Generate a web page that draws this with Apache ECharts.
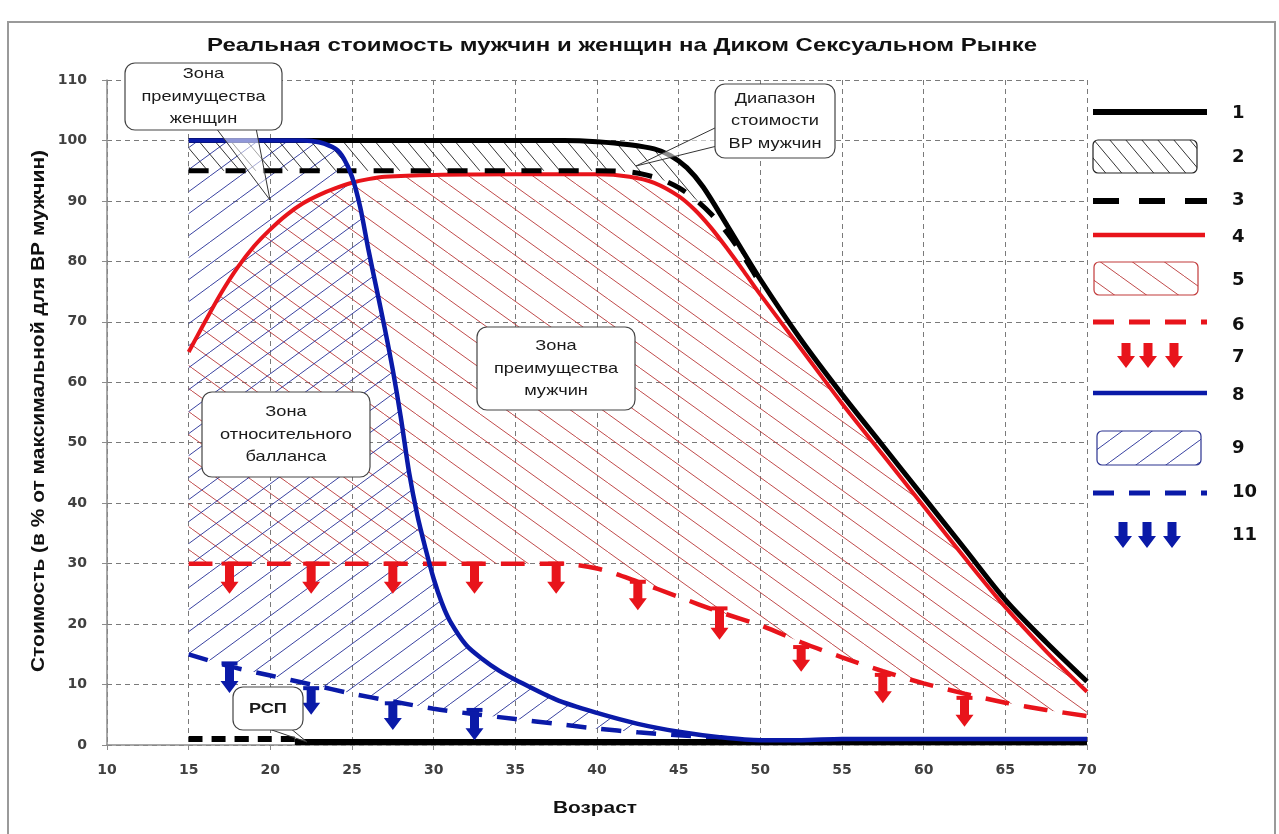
<!DOCTYPE html>
<html>
<head>
<meta charset="utf-8">
<title>Реальная стоимость мужчин и женщин</title>
<script src="https://cdn.jsdelivr.net/npm/echarts@6/dist/echarts.min.js"></script>
<style>
  html, body { margin: 0; padding: 0; background: #fff; }
  #chart { width: 1279px; height: 834px; }
</style>
</head>
<body>
<div id="chart"></div>
<script>
// --- values (age -> % of max value) ---
const ageMax = [15, 20, 25, 30, 35, 38, 40, 42, 43.5, 44.5, 45.5, 46.5, 48, 50, 52.5, 55, 57.5, 60, 62.5, 65, 67.5, 70];
const maxMen = [100, 100, 100, 100, 100, 100, 99.8, 99.3, 98.6, 97.5, 95.5, 92.3, 85.8, 77, 67, 58, 49.5, 41, 32.5, 24, 17, 10.5];

const ageRangeLow = [15, 20, 25, 30, 35, 40, 42, 43, 44, 45, 46, 47, 48, 49, 50];
const rangeLow = [95, 95, 95, 95, 95, 95, 94.8, 94.3, 93.5, 92.2, 90.3, 87.8, 84.6, 80.7, 76.3];

const ageMen = [15, 16, 17, 18, 19, 20, 21, 22, 23, 24, 25, 26, 27, 30, 35, 40, 42, 43.5, 45, 46, 47, 48, 49, 50, 52.5, 55, 57.5, 60, 62.5, 65, 67.5, 70];
const valMen = [65, 70, 74.8, 79, 82.5, 85.3, 87.7, 89.6, 91, 92.1, 93, 93.6, 94, 94.3, 94.4, 94.4, 94, 93, 90.8, 88.5, 85.5, 82, 78.3, 74.5, 65.5, 56.5, 48, 39.5, 31, 22.8, 15.5, 8.8];

const ageMenLow = [15, 20, 25, 30, 35, 37.5, 40, 42.5, 45, 47.5, 50, 52.5, 55, 57.5, 60, 62.5, 65, 67.5, 70];
const menLow = [30, 30, 30, 30, 30, 30, 29.2, 27, 24.5, 22, 19.8, 17, 14.5, 12.2, 10.2, 8.5, 7, 5.8, 4.8];

const ageWomen = [15, 20, 22, 23, 24, 24.5, 25, 25.5, 26, 26.5, 27, 27.5, 28, 28.5, 29, 29.5, 30, 30.5, 31, 32, 33, 34, 35, 37.5, 40, 42.5, 45, 47.5, 50, 52.5, 55, 60, 65, 70];
const valWomen = [100, 100, 100, 99.7, 98.6, 97, 94, 89, 82, 75.5, 69, 62, 54, 45, 38, 32.5, 27.5, 23.5, 20.5, 16.5, 14.2, 12.3, 10.8, 7.5, 5.3, 3.5, 2.2, 1.3, 0.8, 0.8, 1, 1, 1, 1];

const ageWomenLow = [15, 17.5, 20, 22.5, 25, 27.5, 30, 32.5, 35, 37.5, 40, 42.5, 45, 47.5];
const womenLow = [15, 13, 11.5, 10, 8.5, 7.2, 6, 5.1, 4.3, 3.5, 2.7, 2.1, 1.6, 1.2];

const ageRspDash = [15, 21.5];
const rspDash = [1, 1];
const ageRsp = [21.5, 70];
const rsp = [0.5, 0.5];

const redArrowAge = [17.5, 22.5, 27.5, 32.5, 37.5, 42.5, 47.5, 52.5, 57.5, 62.5];
const redArrowTop = [30, 30, 30, 30, 30, 27, 22.6, 16.2, 11.6, 7.8];
const redArrowEnd = [25, 25, 25, 25, 25, 22.3, 17.4, 12.1, 6.9, 3];

const blueArrowAge = [17.5, 22.5, 27.5, 32.5];
const blueArrowTop = [13.5, 9.4, 6.9, 5.8];
const blueArrowEnd = [8.6, 5, 2.5, 0.8];

const legendNums = ['1', '2', '3', '4', '5', '6', '7', '8', '9', '10', '11'];

const titleText = 'Реальная стоимость мужчин и женщин на Диком Сексуальном Рынке';
const yName = 'Стоимость (в % от максимальной для ВР мужчин)';
const xName = 'Возраст';

const RED = '#e8141b';
const BLUE = '#0a1aa8';
const SANS = '"Liberation Sans", Arial, sans-serif';
const DEJAVU = '"DejaVu Sans", sans-serif';

const pairs = (xs, ys) => xs.map((x, i) => [x, ys[i]]);

// hatch tiles
function hatch(color, w, h, up) {
  const c = document.createElement('canvas');
  c.width = w; c.height = h;
  const g = c.getContext('2d');
  g.strokeStyle = color;
  g.lineWidth = 1;
  g.beginPath();
  for (let k = -1; k <= 1; k++) {
    if (up) { g.moveTo(k * w, h); g.lineTo(k * w + w, 0); }
    else { g.moveTo(k * w, 0); g.lineTo(k * w + w, h); }
  }
  g.stroke();
  return { image: c, repeat: 'repeat' };
}
const hatchBlack = hatch('rgba(30,30,30,0.9)', 16, 19, false);
const hatchRed = hatch('rgba(185,55,55,0.9)', 32, 23, false);
const hatchBlue = hatch('rgba(35,45,150,0.9)', 30, 22, true);

const measure = document.createElement('canvas').getContext('2d');
function fitScale(str, font, target) {
  measure.font = font;
  return target / measure.measureText(str).width;
}

function lineSeries(name, xs, ys, color, width, dash, z) {
  return {
    name: name, type: 'line', data: pairs(xs, ys), z: z,
    showSymbol: false, silent: true,
    smooth: 0.3,
    lineStyle: { color: color, width: width, type: dash || 'solid' }
  };
}

function bandSeries(upX, upY, lowX, lowY, fill) {
  const upper = pairs(upX, upY);
  const lower = pairs(lowX, lowY).reverse();
  return {
    type: 'custom', z: 1, silent: true,
    data: [upper[0]],
    renderItem: function (params, api) {
      const pts = upper.concat(lower).map(p => api.coord(p));
      return { type: 'polygon', shape: { points: pts }, style: { fill: fill, stroke: null } };
    }
  };
}

function arrowShape(cx, y0, y1, color, cap) {
  const sw = 4.5, hw = 9, hl = 12;
  const kids = [{
    type: 'polygon',
    shape: { points: [[cx - sw, y0], [cx + sw, y0], [cx + sw, y1 - hl], [cx + hw, y1 - hl], [cx, y1], [cx - hw, y1 - hl], [cx - sw, y1 - hl]] },
    style: { fill: color }
  }];
  if (cap) kids.push({ type: 'rect', shape: { x: cx - 8, y: y0 - 2, width: 16, height: 4 }, style: { fill: color } });
  return kids;
}

function arrowSeries(xs, tops, ends, color) {
  return {
    type: 'custom', z: 8, silent: true,
    data: xs.map((x, i) => [x, tops[i], ends[i]]),
    renderItem: function (params, api) {
      const p0 = api.coord([api.value(0), api.value(1)]);
      const p1 = api.coord([api.value(0), api.value(2)]);
      return { type: 'group', children: arrowShape(p0[0], p0[1], p1[1], color, true) };
    }
  };
}

// callouts (pixel layout)
const callouts = [
  { text: 'Зона\nпреимущества\nженщин', box: [125, 63, 157, 67], wedge: [[216, 128], [256, 128], [270, 200]] },
  { text: 'Диапазон\nстоимости\nВР мужчин', box: [715, 84, 120, 74], wedge: [[717, 127], [717, 146], [636, 166]] },
  { text: 'Зона\nпреимущества\nмужчин', box: [477, 327, 158, 83] },
  { text: 'Зона\nотносительного\nбалланса', box: [202, 392, 168, 85] },
  { text: 'РСП', box: [233, 687, 70, 43], wedge: [[266, 728], [290, 728], [307, 742]], bold: true }
];

function buildGraphics() {
  const graphics = [];
  graphics.push({ type: 'rect', z: 0, shape: { x: 8, y: 22, width: 1267, height: 830 }, style: { fill: null, stroke: '#9a9a9a', lineWidth: 2 } });

  function label(str, x, y, size, target, rot) {
    const font = 'bold ' + size + 'px ' + SANS;
    return {
      type: 'text', x: x, y: y, rotation: rot || 0, scaleX: fitScale(str, font, target), z: 50,
      style: { text: str, fontFamily: SANS, fontWeight: 'bold', fontSize: size, fill: '#111', align: 'center', verticalAlign: 'middle' }
    };
  }
  graphics.push(label(titleText, 622, 46, 19, 830));
  graphics.push(label(yName, 39, 411, 18, 522, Math.PI / 2));
  graphics.push(label(xName, 595, 808, 17, 84));

  const calloutScale = fitScale('преимущества', 'normal 15px ' + SANS, 124);
  callouts.forEach(c => {
    const [bx, by, bw, bh] = c.box;
    if (c.wedge) {
      graphics.push({ type: 'polygon', z: 90, shape: { points: c.wedge }, style: { fill: 'rgba(255,255,255,0.55)', stroke: '#333', lineWidth: 1 } });
    }
    graphics.push({ type: 'rect', z: 91, shape: { x: bx, y: by, width: bw, height: bh, r: 10 }, style: { fill: '#fff', stroke: '#444', lineWidth: 1.2 } });
    graphics.push({
      type: 'text', z: 92, x: bx + bw / 2, y: by + bh / 2, scaleX: calloutScale,
      style: {
        text: c.text, fontFamily: SANS, fontSize: 15, fontWeight: c.bold ? 'bold' : 'normal',
        lineHeight: 22.5, fill: '#1a1a1a', align: 'center', verticalAlign: 'middle'
      }
    });
  });

  // legend (drawn by hand: hatch boxes and arrows)
  const LX0 = 1093, LX1 = 1207;
  graphics.push({ type: 'line', shape: { x1: LX0, y1: 112, x2: LX1, y2: 112 }, style: { stroke: '#000', lineWidth: 6 } });
  graphics.push({ type: 'rect', shape: { x: LX0, y: 140, width: 104, height: 33, r: 5 }, style: { fill: hatchBlack, stroke: '#222', lineWidth: 1.2 } });
  graphics.push({ type: 'line', shape: { x1: LX0, y1: 201, x2: LX1, y2: 201 }, style: { stroke: '#000', lineWidth: 6, lineDash: [26, 20] } });
  graphics.push({ type: 'line', shape: { x1: LX0, y1: 235, x2: LX1 - 2, y2: 235 }, style: { stroke: RED, lineWidth: 4.5 } });
  graphics.push({ type: 'rect', shape: { x: LX0 + 1, y: 262, width: 104, height: 33, r: 5 }, style: { fill: hatchRed, stroke: '#c23a3a', lineWidth: 1.2 } });
  graphics.push({ type: 'line', shape: { x1: LX0, y1: 322, x2: LX1, y2: 322 }, style: { stroke: RED, lineWidth: 5, lineDash: [21, 15] } });
  [1126, 1148, 1174].forEach(cx => graphics.push({ type: 'group', children: arrowShape(cx, 343, 368, RED, false) }));
  graphics.push({ type: 'line', shape: { x1: LX0, y1: 393, x2: LX1, y2: 393 }, style: { stroke: BLUE, lineWidth: 4.5 } });
  graphics.push({ type: 'rect', shape: { x: LX0 + 4, y: 431, width: 104, height: 34, r: 5 }, style: { fill: hatchBlue, stroke: '#2a3290', lineWidth: 1.2 } });
  graphics.push({ type: 'line', shape: { x1: LX0, y1: 493, x2: LX1, y2: 493 }, style: { stroke: BLUE, lineWidth: 5, lineDash: [21, 15] } });
  [1123, 1147, 1172].forEach(cx => graphics.push({ type: 'group', children: arrowShape(cx, 522, 548, BLUE, false) }));

  const legendY = [113, 157, 200, 237, 280, 325, 357, 395, 448, 492, 535];
  legendNums.forEach((n, i) => graphics.push({
    type: 'text', x: 1232, y: legendY[i],
    style: { text: n, fontFamily: DEJAVU, fontWeight: 'bold', fontSize: 18, fill: '#111', align: 'left', verticalAlign: 'middle' }
  }));
  return graphics;
}

const chart = echarts.init(document.getElementById('chart'));
const axisLabel = { color: '#404040', fontWeight: 'bold', fontSize: 14, fontFamily: DEJAVU };
const gridLine = { type: [5, 4], color: '#7a7a7a', width: 1 };

function render() {
  chart.setOption({
    animation: false,
    backgroundColor: '#fff',
    grid: { left: 107, top: 80, width: 980, height: 665 },
    xAxis: {
      type: 'value', min: 10, max: 70, interval: 5,
      axisLine: { lineStyle: { color: '#8c8c8c', width: 1.5 } },
      axisTick: { show: true, length: 5, lineStyle: { color: '#8c8c8c' } },
      axisLabel: Object.assign({ margin: 18 }, axisLabel),
      splitLine: { show: true, lineStyle: gridLine }
    },
    yAxis: {
      type: 'value', min: 0, max: 110, interval: 10,
      axisLine: { show: true, lineStyle: { color: '#8c8c8c', width: 1.5 } },
      axisTick: { show: true, length: 5, lineStyle: { color: '#8c8c8c' } },
      axisLabel: Object.assign({ margin: 20 }, axisLabel),
      splitLine: { show: true, lineStyle: gridLine }
    },
    series: [
      bandSeries(ageMen, valMen, ageMenLow, menLow, hatchRed),
      bandSeries(ageWomen.filter(a => a <= 47.5), valWomen.slice(0, ageWomen.indexOf(47.5) + 1), ageWomenLow, womenLow, hatchBlue),
      bandSeries(ageMax.filter(a => a <= 50), maxMen.slice(0, ageMax.indexOf(50) + 1), ageRangeLow, rangeLow, hatchBlack),
      lineSeries('6', ageMenLow, menLow, RED, 4.5, [24, 15], 3),
      lineSeries('10', ageWomenLow, womenLow, BLUE, 4.5, [20, 15], 3),
      lineSeries('1', ageMax, maxMen, '#000', 5, null, 4),
      lineSeries('4', ageMen, valMen, RED, 4, null, 5),
      lineSeries('3', ageRangeLow, rangeLow, '#000', 5, [20, 17], 6),
      lineSeries('РСП', ageRspDash, rspDash, '#000', 6, [14, 9], 6),
      lineSeries('РСП', ageRsp, rsp, '#000', 6, null, 6),
      lineSeries('8', ageWomen, valWomen, BLUE, 4.5, null, 7),
      arrowSeries(redArrowAge, redArrowTop, redArrowEnd, RED),
      arrowSeries(blueArrowAge, blueArrowTop, blueArrowEnd, BLUE)
    ],
    graphic: buildGraphics()
  }, true);
}

render();
// redraw once the system fonts are surely loaded
if (document.fonts && document.fonts.load) {
  Promise.all([
    document.fonts.load('bold 18px "Liberation Sans"', 'Рынке'),
    document.fonts.load('15px "Liberation Sans"', 'Зона'),
    document.fonts.load('bold 14px "DejaVu Sans"', '110')
  ]).then(render, render);
}
setTimeout(render, 300);
</script>
</body>
</html>
